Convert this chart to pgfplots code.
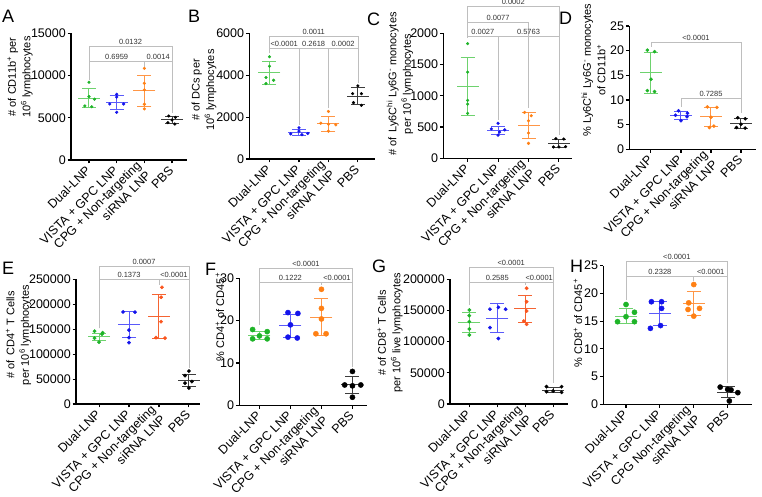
\documentclass[border=0pt]{standalone}
\usepackage{fontspec}
\setmainfont{Liberation Sans}
\usepackage{pgfplots}
\pgfplotsset{compat=1.18}
\usetikzlibrary{calc}

\definecolor{grn}{RGB}{30,180,40}
\definecolor{grnL}{RGB}{110,210,110}
\definecolor{blu}{RGB}{20,20,235}
\definecolor{bluL}{RGB}{90,90,250}
\definecolor{org}{RGB}{255,128,20}
\definecolor{orgL}{RGB}{255,150,70}
\definecolor{rdo}{RGB}{250,85,30}
\definecolor{rdoL}{RGB}{245,100,50}
\definecolor{blkL}{RGB}{60,60,60}
\definecolor{brkgray}{RGB}{190,190,190}

\tikzset{
  brkline/.style={draw=brkgray, line width=0.8pt},
  brklbl/.style={above, inner sep=1.5pt, font=\fontsize{7.5}{9}\selectfont, text=black!80},
  ylab/.style={rotate=90, align=center, font=\fontsize{11}{14.5}\selectfont},
  letter/.style={anchor=north west, inner sep=0pt, font=\fontsize{18}{18}\selectfont},
}

% bracket: x1, x2, level, drop at x1, drop at x2, p value
\newcommand{\brk}[6]{%
  \draw[brkline] (axis cs:#1,#4) -- (axis cs:#1,#3) -- (axis cs:#2,#3) -- (axis cs:#2,#5);
  \node[brklbl] at ($(axis cs:#1,#3)!0.5!(axis cs:#2,#3)$) {#6};}

\pgfplotsset{
  pts/.style 2 args={only marks, mark=*, mark size=#2, color=#1, mark options={draw=#1, fill=#1}},
  msd/.style={only marks, mark=-, mark size=11pt, color=#1, mark options={line width=1pt},
    error bars/.cd, y dir=both, y explicit,
    error bar style={line width=1pt, color=#1},
    error mark options={rotate=90, color=#1, mark size=7pt, line width=1pt}},
  panel/.style={
    anchor=south west, scale only axis, clip=false,
    axis x line*=bottom, axis y line*=left,
    axis line style={line width=1.1pt},
    tick align=outside, major tick length=3.5pt,
    tick style={line width=1.1pt, black},
    xtick={0,1,2,3},
    xticklabels={Dual-LNP, VISTA + GPC LNP, {CPG + Non-targeting\\siRNA LNP}, PBS},
    xticklabel shift=4pt,
    xticklabel style={rotate=45, anchor=east, align=right, inner sep=1pt,
      font=\fontsize{12.5}{14}\selectfont},
    yticklabel style={inner sep=1.5pt, font=\fontsize{12.5}{13}\selectfont,
      /pgf/number format/fixed, /pgf/number format/precision=0},
    ymin=0,
    /pgf/number format/assume math mode=true,
    /pgf/number format/set thousands separator={},
    scaled y ticks=false,
  },
}

\begin{document}
\begin{tikzpicture}
\path[use as bounding box] (0,0) rectangle (762pt,497pt);

% A
\begin{axis}[panel, at={(71pt,337pt)}, width=116pt, height=126.7pt,
  xmin=-0.65, xmax=3.54, ymax=15000, ytick={0,5000,10000,15000}]
\addplot[msd=grnL] coordinates {(0,7320) +- (0,1150)};
\addplot[msd=bluL] coordinates {(1,6830) +- (0,850)};
\addplot[msd=orgL] coordinates {(2,8170) +- (0,1780)};
\addplot[msd=blkL] coordinates {(3,4740) +- (0,390)};
\addplot[pts={grn}{1.4pt}] coordinates {(0,9200) (0,7500) (0.2,7200) (-0.15,6400) (0.1,6300)};
\addplot[pts={blu}{1.4pt}] coordinates {(1,7780) (1,7450) (0.75,6630) (1.25,6630) (1,5650)};
\addplot[pts={org}{1.4pt}] coordinates {(2,10850) (2,9080) (2,8300) (2,6600) (2,6050)};
\addplot[pts={black}{1.4pt}] coordinates {(2.88,5210) (3.12,5050) (3,4740) (2.85,4420) (3.1,4260)};
\brk{0}{3}{13415}{9470}{5560}{0.0132}
\brk{0}{2}{11640}{9470}{11050}{0.6959}
\brk{2}{3}{11640}{11050}{5560}{0.0014}
\end{axis}

% B
\begin{axis}[panel, at={(249.3pt,338pt)}, width=125.7pt, height=125.7pt,
  xmin=-0.685, xmax=3.58, ymax=6000, ytick={0,2000,4000,6000}]
\addplot[msd=grnL] coordinates {(0,4112) +- (0,535)};
\addplot[msd=bluL] coordinates {(1,1256) +- (0,136)};
\addplot[msd=orgL] coordinates {(2,1672) +- (0,360)};
\addplot[msd=blkL] coordinates {(3,3000) +- (0,420)};
\addplot[pts={grn}{1.4pt}] coordinates {(0,4880) (0,4430) (-0.12,3890) (0.14,3760) (-0.12,3600)};
\addplot[pts={blu}{1.4pt}] coordinates {(1,1490) (1,1330) (0.72,1200) (1.1,1160) (1.3,1220)};
\addplot[pts={org}{1.4pt}] coordinates {(2,2270) (1.74,1710) (2,1660) (2.25,1630) (2,1330)};
\addplot[pts={black}{1.4pt}] coordinates {(3,3490) (2.82,3120) (3.12,3120) (2.85,2690) (3.12,2560)};
\brk{0}{3}{5871}{5045}{3613}{0.0011}
\brk{0}{1}{5284}{5045}{1623}{<0.0001}
\brk{1}{2}{5284}{1623}{2420}{0.2618}
\brk{2}{3}{5284}{2420}{3613}{0.0002}
\end{axis}

% C
\begin{axis}[panel, at={(443.3pt,338.7pt)}, width=128.4pt, height=125pt,
  xmin=-0.8, xmax=3.42, ymax=2000, ytick={0,500,1000,1500,2000}]
\addplot[msd=grnL] coordinates {(0,1146) +- (0,460)};
\addplot[msd=bluL] coordinates {(1,452) +- (0,64)};
\addplot[msd=orgL] coordinates {(2,527) +- (0,208)};
\addplot[msd=blkL] coordinates {(3,239) +- (0,65)};
\addplot[pts={grn}{1.4pt}] coordinates {(0,1835) (0,1378) (0,926) (0,867) (0,718)};
\addplot[pts={blu}{1.4pt}] coordinates {(1,560) (0.78,470) (1.22,455) (1.05,420) (1,370)};
\addplot[pts={org}{1.4pt}] coordinates {(1.87,734) (2.09,681) (2,601) (2,404) (2,239)};
\addplot[pts={black}{1.4pt}] coordinates {(2.9,314) (3.16,308) (2.82,181) (3,181) (3.22,186)};
\brk{0}{3}{2426}{1930}{373}{0.0002}
\brk{0}{2}{2170}{1930}{800}{0.0077}
\brk{0}{1}{1957}{1930}{613}{0.0027}
\brk{1}{3}{1957}{613}{373}{0.5763}
\end{axis}

% D
\begin{axis}[panel, at={(629.3pt,347.7pt)}, width=126.7pt, height=123.3pt,
  xmin=-0.72, xmax=3.5, ymax=25, ytick={0,5,10,15,20,25}]
\addplot[msd=grnL] coordinates {(0,15.5) +- (0,4.1)};
\addplot[msd=bluL] coordinates {(1,6.9) +- (0,0.85)};
\addplot[msd=orgL] coordinates {(2,6.55) +- (0,2.0)};
\addplot[msd=blkL] coordinates {(3,5.25) +- (0,0.95)};
\addplot[pts={grn}{1.6pt}] coordinates {(-0.12,20.1) (0.12,19.8) (0,14.2) (-0.12,11.9) (0.12,11.7)};
\addplot[pts={blu}{1.6pt}] coordinates {(0.92,7.8) (1.22,7.3) (0.82,6.9) (1.2,6.6) (1,5.8)};
\addplot[pts={org}{1.6pt}] coordinates {(1.88,8.6) (2.2,8.5) (2,6.5) (2.1,4.7) (1.95,4.4)};
\addplot[pts={black}{1.6pt}] coordinates {(2.89,6.4) (3.14,6.2) (3,5.1) (2.85,4.4) (3.14,4.3)};
\brk{0}{3}{21.7}{20.8}{7.3}{<0.0001}
\brk{1}{3}{10.34}{8.6}{7.3}{0.7285}
\end{axis}

% E
\begin{axis}[panel, at={(76pt,93pt)}, width=124pt, height=124.7pt,
  xmin=-0.77, xmax=3.37, ymax=250000, ytick={0,50000,100000,150000,200000,250000}]
\addplot[msd=grnL] coordinates {(0,135000) +- (0,7000)};
\addplot[msd=bluL] coordinates {(1,159000) +- (0,26000)};
\addplot[msd=rdoL] coordinates {(2,176000) +- (0,44000)};
\addplot[msd=blkL] coordinates {(3,48000) +- (0,12000)};
\addplot[pts={grn}{1.7pt}] coordinates {(-0.15,146000) (0.12,143000) (0.1,140000) (-0.15,132000) (0,124000)};
\addplot[pts={blu}{1.7pt}] coordinates {(0.8,184500) (1.2,184000) (1,148000) (1,133000) (1,123000)};
\addplot[pts={rdo}{1.7pt}] coordinates {(2.1,234000) (2.07,214000) (2.07,165000) (1.9,133000) (2.2,132000)};
\addplot[pts={black}{1.7pt}] coordinates {(3,66000) (2.87,57000) (3.1,45000) (2.87,42000) (3,32000)};
\brk{0}{3}{276700}{151800}{71600}{0.0007}
\brk{0}{2}{250000}{151800}{238600}{0.1373}
\brk{2}{3}{250000}{238600}{71600}{<0.0001}
\end{axis}

% F
\begin{axis}[panel, at={(239.3pt,91.7pt)}, width=127.4pt, height=127pt,
  xmin=-0.65, xmax=3.46, ymax=30, ytick={0,10,20,30}]
\addplot[msd=grnL] coordinates {(0,16.5) +- (0,0.9)};
\addplot[msd=bluL] coordinates {(1,18.8) +- (0,2.75)};
\addplot[msd=orgL] coordinates {(2,20.8) +- (0,4.4)};
\addplot[msd=blkL] coordinates {(3,4.8) +- (0,2.1)};
\addplot[pts={grn}{2.6pt}] coordinates {(-0.22,17.9) (0.25,17.4) (0,16.4) (-0.22,15.7) (0.25,15.7)};
\addplot[pts={blu}{2.6pt}] coordinates {(0.92,21.9) (1.24,21.7) (1,19.0) (0.92,16.1) (1.22,15.9)};
\addplot[pts={org}{2.6pt}] coordinates {(2,27.4) (2,22.9) (2,20.4) (1.82,16.9) (2.15,16.9)};
\addplot[pts={black}{2.6pt}] coordinates {(3,8.0) (2.75,4.8) (3,4.6) (3.27,4.8) (3,1.9)};
\brk{0}{3}{32.36}{18.97}{9.1}{<0.0001}
\brk{0}{2}{28.96}{18.97}{28.4}{0.1222}
\brk{2}{3}{28.96}{28.4}{9.1}{<0.0001}
\end{axis}

% G
\begin{axis}[panel, at={(450pt,93pt)}, width=118pt, height=124.7pt,
  xmin=-0.69, xmax=3.53, ymax=200000, ytick={0,50000,100000,150000,200000}]
\addplot[msd=grnL] coordinates {(0,131000) +- (0,16000)};
\addplot[msd=bluL] coordinates {(1,137400) +- (0,23000)};
\addplot[msd=rdoL] coordinates {(2,152700) +- (0,22000)};
\addplot[msd=blkL] coordinates {(3,22200) +- (0,4000)};
\addplot[pts={grn}{1.7pt}] coordinates {(0,150800) (0,141700) (0,132000) (0,120300) (0,110700)};
\addplot[pts={blu}{1.7pt}] coordinates {(0.74,152000) (1.04,155000) (1.3,152000) (0.74,122500) (1.04,105000)};
\addplot[pts={rdo}{1.7pt}] coordinates {(2.05,185600) (2.05,164000) (2.05,149000) (1.95,133000) (2.05,128000)};
\addplot[pts={black}{1.7pt}] coordinates {(2.76,27800) (3.3,27800) (3,20900) (2.76,19800) (3.3,18700)};
\brk{0}{3}{219300}{158800}{33200}{<0.0001}
\brk{0}{2}{195200}{158800}{190900}{0.2585}
\brk{2}{3}{195200}{190900}{33200}{<0.0001}
\end{axis}

% H
\begin{axis}[panel, at={(603.3pt,92.7pt)}, width=148.4pt, height=138.6pt,
  xmin=-0.67, xmax=3.71, ymax=25, ytick={0,5,10,15,20,25},
  xticklabels={Dual-LNP, VISTA + GPC LNP, {CPG Non-targeting\\siRNA LNP}, PBS}]
\addplot[msd=grnL] coordinates {(0,15.9) +- (0,1.3)};
\addplot[msd=bluL] coordinates {(1,16.4) +- (0,2.1)};
\addplot[msd=orgL] coordinates {(2,18.2) +- (0,2.1)};
\addplot[msd=blkL] coordinates {(3,2.2) +- (0,0.95)};
\addplot[pts={grn}{2.6pt}] coordinates {(0,18.0) (0.25,16.6) (0,15.8) (-0.25,14.9) (0.25,14.9)};
\addplot[pts={blu}{2.6pt}] coordinates {(0.75,18.5) (1.05,18.5) (1.05,17.3) (0.72,13.7) (1.02,14.2)};
\addplot[pts={org}{2.6pt}] coordinates {(2,21.6) (1.85,18.3) (2.17,17.3) (1.83,17.1) (2,15.9)};
\addplot[pts={black}{2.6pt}] coordinates {(2.78,3.1) (3,2.7) (3.1,2.6) (3.3,2.1) (3.05,0.6)};
\brk{0}{3}{25.72}{18.8}{3.8}{<0.0001}
\brk{0}{2}{23.02}{18.8}{22.3}{0.2328}
\brk{2}{3}{23.02}{22.3}{3.8}{<0.0001}
\end{axis}

% y labels
\node[ylab] at (20pt,420pt) {\# of CD11b\textsuperscript{+} per\\10\textsuperscript{6} lymphocytes};
\node[ylab] at (204pt,407pt) {\# of DCs per\\10\textsuperscript{6} lymphocytes};
\node[ylab] at (400pt,413pt) {\# of\, Ly6C\textsuperscript{hi} Ly6G\textsuperscript{-} monocytes\\per 10\textsuperscript{6} lymphocytes};
\node[ylab] at (593.5pt,427pt) {\% Ly6C\textsuperscript{hi} Ly6G\textsuperscript{-} monocytes\\of CD11b\textsuperscript{+}};
\node[ylab] at (18.5pt,162pt) {\# of\, CD4\textsuperscript{+} T Cells\\per 10\textsuperscript{6} lymphocytes};
\node[ylab] at (220pt,180pt) {\% CD4\textsuperscript{+} of CD45\textsuperscript{+}};
\node[ylab] at (390pt,164pt) {\# of CD8\textsuperscript{+} T Cells\\per 10\textsuperscript{6} live lymphocytes};
\node[ylab] at (578pt,174pt) {\% CD8\textsuperscript{+} of CD45\textsuperscript{+}};

% panel letters
\node[letter] at (2pt,487pt) {A};
\node[letter] at (188pt,487pt) {B};
\node[letter] at (367pt,484pt) {C};
\node[letter] at (559pt,485pt) {D};
\node[letter] at (2pt,235pt) {E};
\node[letter] at (205pt,234pt) {F};
\node[letter] at (372pt,237pt) {G};
\node[letter] at (570pt,237pt) {H};
\end{tikzpicture}
\end{document}
